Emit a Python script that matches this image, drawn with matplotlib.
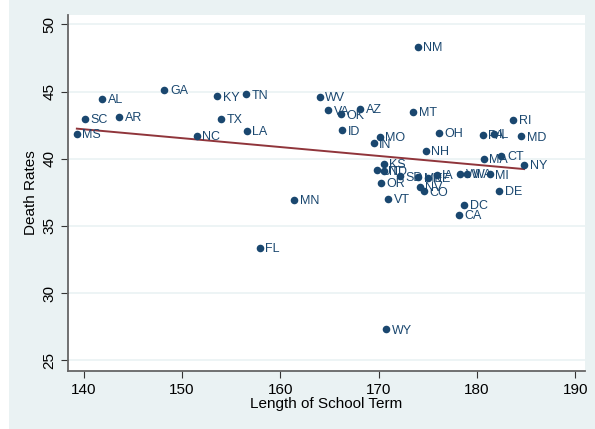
import numpy as np
import matplotlib
matplotlib.use("Agg")
import matplotlib.pyplot as plt
from matplotlib.patches import Rectangle

plt.rcParams['font.family'] = ['Liberation Sans', 'DejaVu Sans']

states = ["MS", "SC", "AL", "AR", "GA", "KY", "TN", "TX", "NC", "LA",
          "NM", "WV", "VA", "OK", "AZ", "MT", "ID", "MO", "IN", "NH", "OH",
          "PA", "IL", "RI", "MD", "MA", "CT", "NY",
          "KS", "UT", "ND", "SD", "ME", "NE", "IA", "WI", "WA", "MI",
          "OR", "VT", "NV", "CO", "DC", "CA", "DE", "MN", "FL", "WY"]
term = [139.3, 140.1, 141.9, 143.6, 148.2, 153.6, 156.5, 154.0, 151.5, 156.6,
        174.0, 164.0, 164.9, 166.2, 168.1, 173.5, 166.3, 170.1, 169.5, 174.8, 176.1,
        180.6, 181.7, 183.7, 184.5, 180.7, 182.5, 184.8,
        170.5, 169.8, 170.5, 172.2, 174.05, 175.0, 175.9, 178.3, 179.0, 181.3,
        170.2, 171.0, 174.2, 174.65, 178.7, 178.2, 182.3, 161.4, 157.9, 170.8]
death = [41.84, 42.96, 44.48, 43.11, 45.15, 44.65, 44.8, 42.99, 41.69, 42.09,
         48.31, 44.6, 43.6, 43.3, 43.7, 43.48, 42.11, 41.62, 41.14, 40.6, 41.92,
         41.79, 41.84, 42.91, 41.66, 39.98, 40.2, 39.53,
         39.63, 39.13, 39.1, 38.68, 38.63, 38.6, 38.8, 38.88, 38.86, 38.83,
         38.19, 37.01, 37.91, 37.59, 36.59, 35.84, 37.61, 36.94, 33.36, 27.31]

# fitted line as it appears in the picture (ends at min and max term)
fit_x = [139.3, 184.8]
fit_y = [42.24, 39.23]

x_ticks = [140, 150, 160, 170, 180, 190]
y_ticks = [25, 30, 35, 40, 45, 50]

bg = "#eaf2f3"
navy = "#1a476f"
maroon = "#90353b"

fig = plt.figure(figsize=(5.95, 4.29), dpi=100, facecolor=bg)
fig.patches.append(Rectangle((0, 0), 9 / 595, 1, transform=fig.transFigure,
                             facecolor="white", edgecolor="none", zorder=-1))
ax = fig.add_axes([68 / 595, 1 - 371 / 429, 517 / 595, 356 / 429])
ax.set_facecolor("white")

ax.plot(fit_x, fit_y, color=maroon, lw=1.4, zorder=2)

ax.scatter(term, death, s=30, color=navy, zorder=3, linewidths=0)
for s, xi, yi in zip(states, term, death):
    ax.annotate(s, (xi, yi), xytext=(4, -1), textcoords="offset points",
                fontsize=9, color=navy, va="center", ha="left", zorder=4)

ax.set_xlim(138.4, 191.0)
ax.set_ylim(24.2, 50.7)
ax.set_xticks(x_ticks)
ax.set_yticks(y_ticks)
ax.set_yticklabels([str(v) for v in y_ticks], rotation=90, va="center")
ax.tick_params(labelsize=11, length=5, width=0.8, color="#333333")
ax.grid(axis="y", color=bg, lw=1.2)
ax.set_axisbelow(True)
for side in ["top", "right"]:
    ax.spines[side].set_visible(False)
for side in ["left", "bottom"]:
    ax.spines[side].set_color("#666666")
    ax.spines[side].set_linewidth(1.3)

ax.set_xlabel("Length of School Term", fontsize=11, labelpad=0)
ax.set_ylabel("Death Rates", fontsize=11, labelpad=3)

fig.savefig("out.png", dpi=100, facecolor=bg)
